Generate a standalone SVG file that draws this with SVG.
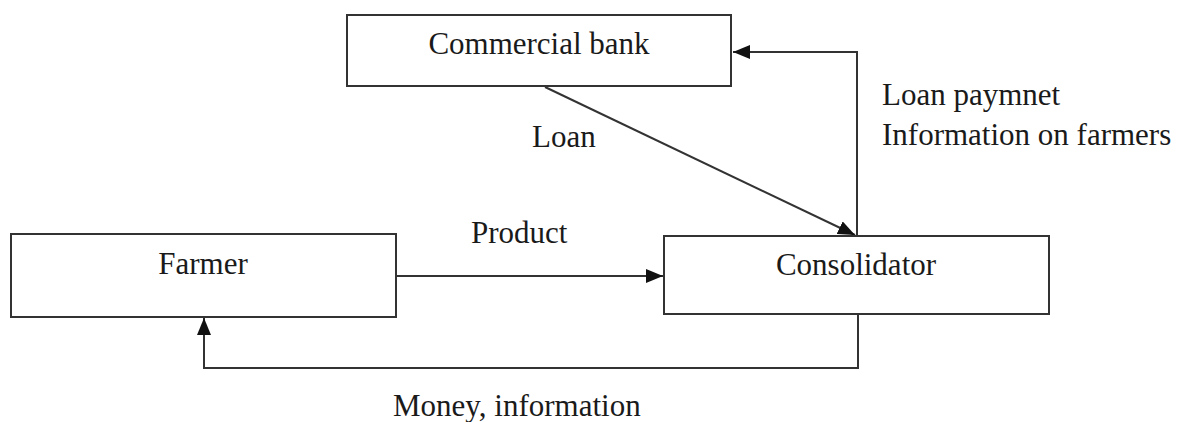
<svg xmlns="http://www.w3.org/2000/svg" width="1178" height="422" viewBox="0 0 1178 422">
<style>
.box{fill:#fff;stroke:#333;stroke-width:2}
.lbl{font-family:"Liberation Serif","Times New Roman",serif;font-size:31px;fill:#1a1a1a}
.c{text-anchor:middle}
.con{fill:none;stroke:#333;stroke-width:2}
</style>
<defs>
<marker id="ah" markerWidth="18" markerHeight="14" refX="17" refY="7" orient="auto" markerUnits="userSpaceOnUse">
<path d="M0,0 L17,7 L0,14 Z" fill="#111"/>
</marker>
</defs>
<rect width="1178" height="422" fill="#fff"/>
<g id="connectors">
<path class="con" d="M545,87 L855,235" marker-end="url(#ah)"/>
<path class="con" d="M857,236 L857,52 L733,52" marker-end="url(#ah)"/>
<path class="con" d="M396,276 L663,276" marker-end="url(#ah)"/>
<path class="con" d="M858,314 L858,368 L204,368 L204,318" marker-end="url(#ah)"/>
<text class="lbl" x="532" y="147">Loan</text>
<text class="lbl" x="882" y="105">Loan paymnet</text>
<text class="lbl" x="882" y="145">Information on farmers</text>
<text class="lbl" x="471" y="243">Product</text>
<text class="lbl" x="393" y="416">Money, information</text>
</g>
<g id="bank">
<rect class="box" x="347" y="15" width="384" height="71"/>
<text class="lbl c" x="539" y="54">Commercial bank</text>
</g>
<g id="farmer">
<rect class="box" x="11" y="234" width="385" height="83"/>
<text class="lbl c" x="203" y="274">Farmer</text>
</g>
<g id="consolidator">
<rect class="box" x="664" y="236" width="385" height="78"/>
<text class="lbl c" x="856" y="275">Consolidator</text>
</g>
</svg>
